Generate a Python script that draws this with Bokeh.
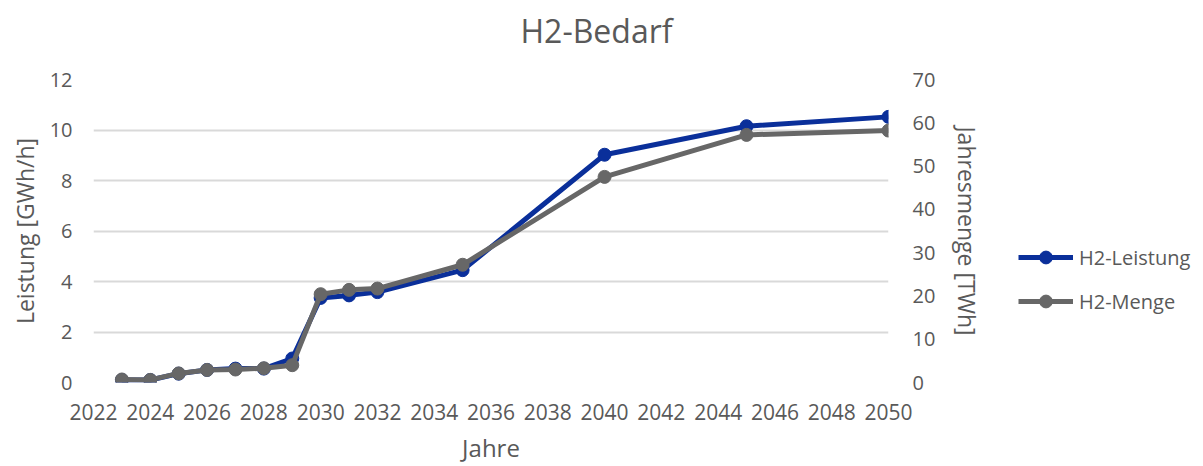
from bokeh.plotting import figure
from bokeh.models import Range1d, LinearAxis, FixedTicker, Legend, LegendItem, Title
from bokeh.layouts import row
from bokeh.embed import file_html
from bokeh.resources import INLINE

years = [2023, 2024, 2025, 2026, 2027, 2028, 2029, 2030, 2031, 2032, 2035, 2040, 2045, 2050]
leistung = [0.1, 0.1, 0.35, 0.5, 0.55, 0.55, 0.95, 3.35, 3.45, 3.58, 4.45, 9.02, 10.15, 10.52]
menge = [0.7, 0.6, 2.1, 2.9, 3.0, 3.3, 4.0, 20.4, 21.4, 21.7, 27.2, 47.5, 57.2, 58.2]
x_ticks = list(range(2022, 2051, 2))
left_ticks = [0, 2, 4, 6, 8, 10, 12]
right_ticks = [0, 10, 20, 30, 40, 50, 60, 70]

TEXT = "#595959"
BLUE = "#0a2f9a"
GREY = "#676767"
FONT = "Open Sans"

p = figure(width=1000, height=466, output_backend="svg", toolbar_location=None,
           x_range=Range1d(2022, 2050), y_range=Range1d(0, 12))
p.min_border_left = 93
p.min_border_right = 112
p.min_border_top = 79
p.min_border_bottom = 83
p.outline_line_color = None
p.background_fill_color = "white"
p.border_fill_color = "white"

p.extra_y_ranges = {"menge": Range1d(0, 70)}

spacer = Title(text=" ", text_font_size="8px", text_font=FONT)
p.add_layout(spacer, "above")
title = Title(text="H2-Bedarf", align="left", offset=427, text_font=FONT,
              text_font_size="32px", text_font_style="normal", text_color=TEXT)
p.add_layout(title, "above")

p.xgrid.grid_line_color = None
p.ygrid.grid_line_color = "#d9d9d9"
p.ygrid.grid_line_width = 2
p.ygrid.ticker = FixedTicker(ticks=left_ticks)

p.xaxis.ticker = FixedTicker(ticks=x_ticks)
p.yaxis.ticker = FixedTicker(ticks=left_ticks)

for ax in [p.xaxis[0], p.yaxis[0]]:
    ax.axis_line_color = None
    ax.major_tick_line_color = None
    ax.minor_tick_line_color = None
    ax.major_tick_in = 0
    ax.major_tick_out = 0
    ax.minor_tick_out = 0
    ax.major_label_text_color = TEXT
    ax.major_label_text_font = FONT
    ax.major_label_text_font_size = "20px"
    ax.axis_label_text_color = TEXT
    ax.axis_label_text_font = FONT
    ax.axis_label_text_font_size = "23px"
    ax.axis_label_text_font_style = "normal"

p.xaxis.axis_label = "Jahre"
p.xaxis.major_label_standoff = 21
p.xaxis.axis_label_standoff = 8
p.xaxis.major_label_text_font_size = "21px"
p.xaxis.axis_label_text_font_size = "24px"

p.yaxis.axis_label = "Leistung [GWh/h]"
p.yaxis.major_label_standoff = 21
p.yaxis.axis_label_standoff = 6

raxis = LinearAxis(y_range_name="menge", ticker=FixedTicker(ticks=right_ticks),
                   axis_label="Jahresmenge [TWh]")
raxis.axis_line_color = None
raxis.major_tick_line_color = None
raxis.minor_tick_line_color = None
raxis.major_tick_in = 0
raxis.major_tick_out = 0
raxis.minor_tick_out = 0
raxis.major_label_text_color = TEXT
raxis.major_label_text_font = FONT
raxis.major_label_text_font_size = "20px"
raxis.major_label_standoff = 24
raxis.axis_label_text_color = TEXT
raxis.axis_label_text_font = FONT
raxis.axis_label_text_font_size = "23px"
raxis.axis_label_text_font_style = "normal"
raxis.axis_label_standoff = 13
p.add_layout(raxis, "right")

p.line(years, leistung, line_color=BLUE, line_width=5, line_join="round")
p.scatter(years, leistung, size=13, fill_color=BLUE, line_color=BLUE)
p.line(years, menge, line_color=GREY, line_width=5, line_join="round", y_range_name="menge")
p.scatter(years, menge, size=13, fill_color=GREY, line_color=GREY, y_range_name="menge")

# legend panel: a second, axis-less figure whose renderers lie outside its view
q = figure(width=203, height=466, output_backend="svg", toolbar_location=None,
           x_range=Range1d(0, 1), y_range=Range1d(0, 1),
           x_axis_location=None, y_axis_location=None)
q.min_border_left = 0
q.min_border_right = 0
q.min_border_top = 0
q.min_border_bottom = 0
q.outline_line_color = None
q.xgrid.grid_line_color = None
q.ygrid.grid_line_color = None
q.border_fill_color = "white"
q.background_fill_color = "white"

r1 = q.line(years, leistung, line_color=BLUE, line_width=5)
s1 = q.scatter(years, leistung, size=13, fill_color=BLUE, line_color=BLUE)
r2 = q.line(years, menge, line_color=GREY, line_width=5)
s2 = q.scatter(years, menge, size=13, fill_color=GREY, line_color=GREY)

legend = Legend(items=[LegendItem(label="H2-Leistung", renderers=[r1, s1]),
                       LegendItem(label="H2-Menge", renderers=[r2, s2])],
                location=(18, 65))
legend.glyph_width = 55
legend.glyph_height = 32
legend.label_height = 20
legend.spacing = 12
legend.padding = 0
legend.margin = 0
legend.label_standoff = 6
legend.border_line_color = None
legend.background_fill_alpha = 0
legend.label_text_font = FONT
legend.label_text_font_size = "20px"
legend.label_text_color = TEXT
q.add_layout(legend, "center")

layout = row(p, q, spacing=0)
open("out.html", "w").write(file_html(layout, INLINE))
